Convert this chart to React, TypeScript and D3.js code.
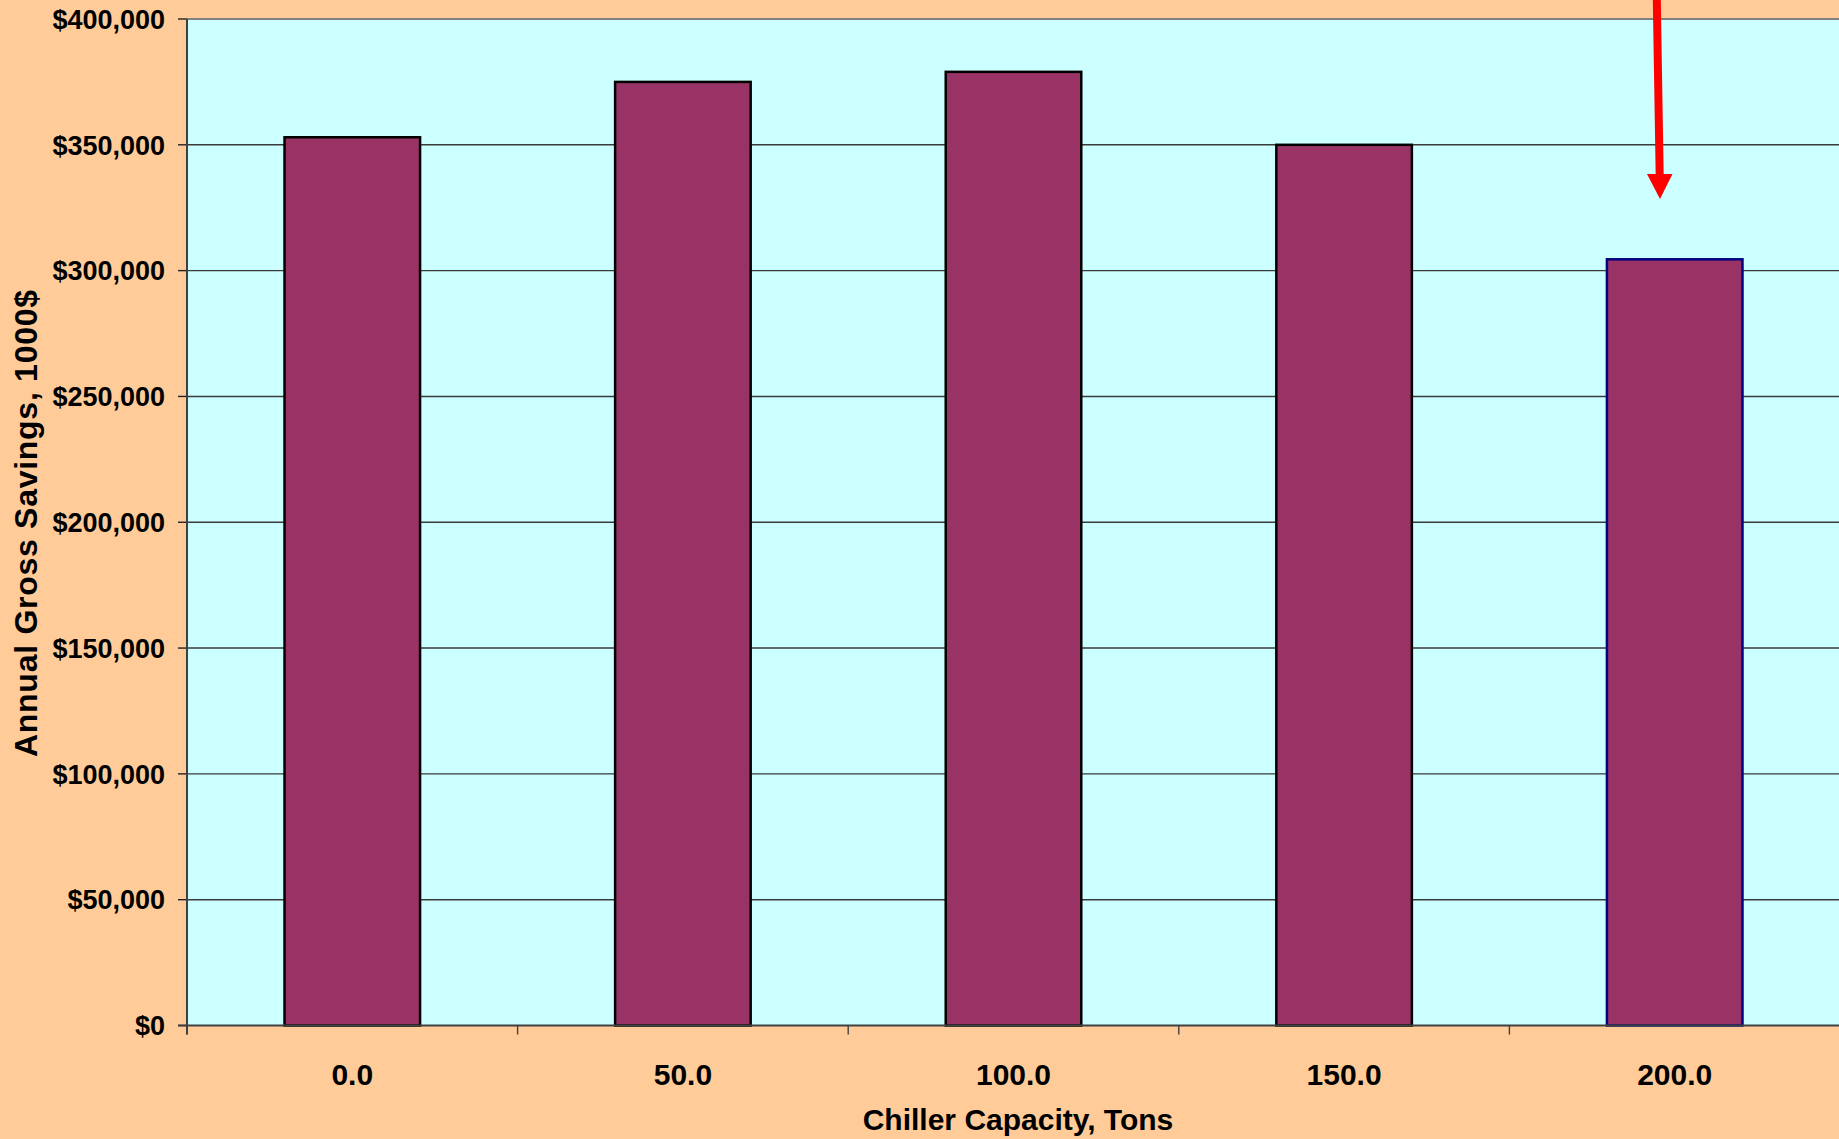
import React from "react";
import * as d3 from "d3";

const categories = ["0.0", "50.0", "100.0", "150.0", "200.0"];
const savings = [353000, 375000, 379000, 350000, 304500];
const yTicks = [0, 50000, 100000, 150000, 200000, 250000, 300000, 350000, 400000];
const xTitle = "Chiller Capacity, Tons";
const yTitle = "Annual Gross Savings, 1000$";

const W = 1839;
const H = 1139;
const plot = { left: 187, right: 1840, top: 19, bottom: 1025.5 };
const FONT = "Arial, 'Liberation Sans', sans-serif";

export default function App() {
  const x = d3
    .scaleBand<string>()
    .domain(categories)
    .range([plot.left, plot.right])
    .paddingInner(0.59)
    .paddingOuter(0.295);
  const xCell = d3.scaleBand<string>().domain(categories).range([plot.left, plot.right]).padding(0);
  const y = d3.scaleLinear().domain([0, 400000]).range([plot.bottom, plot.top]);
  const fmt = (v: number) => "$" + d3.format(",")(v);
  const boundaries = categories.map((c) => xCell(c) as number).concat([plot.right]);

  const arrowTop = { x: 1656.7, y: -6 };
  const arrowBase = { x: 1659.7, y: 176 };
  const tip = { x: 1660, y: 199 };

  return (
    <div style={{ position: "fixed", left: 0, top: 0, width: W, height: H }}>
      <svg width={W} height={H} style={{ display: "block" }}>
        <rect x={0} y={0} width={W} height={H} fill="#FFCC99" />
        <rect
          x={plot.left}
          y={plot.top}
          width={plot.right - plot.left}
          height={plot.bottom - plot.top}
          fill="#CCFFFF"
        />
        {yTicks.map((t) => (
          <g key={t}>
            {t > 0 && t < 400000 && (
              <line x1={plot.left} x2={plot.right} y1={y(t)} y2={y(t)} stroke="#3a3a3a" strokeWidth={1.4} />
            )}
            <line x1={plot.left - 9} x2={plot.left} y1={y(t)} y2={y(t)} stroke="#222" strokeWidth={1.4} />
            <text
              x={165}
              y={y(t)}
              dy="0.36em"
              textAnchor="end"
              fontFamily={FONT}
              fontWeight="bold"
              fontSize={27}
              fill="#000"
            >
              {fmt(t)}
            </text>
          </g>
        ))}
        <line x1={plot.left} x2={plot.right} y1={plot.top} y2={plot.top} stroke="#808080" strokeWidth={2} />
        {categories.map((c, i) => {
          const last = i === categories.length - 1;
          return (
            <rect
              key={c}
              x={x(c)}
              y={y(savings[i])}
              width={x.bandwidth()}
              height={y(0) - y(savings[i])}
              fill="#993366"
              stroke={last ? "#000080" : "#000"}
              strokeWidth={2.5}
            />
          );
        })}
        <line x1={plot.left} x2={plot.left} y1={plot.top} y2={plot.bottom + 9} stroke="#404040" strokeWidth={2} />
        <line x1={plot.left - 9} x2={plot.right} y1={plot.bottom} y2={plot.bottom} stroke="#404040" strokeWidth={2} />
        {boundaries.map((b, i) => (
          <line key={i} x1={b} x2={b} y1={plot.bottom} y2={plot.bottom + 9} stroke="#404040" strokeWidth={1.4} />
        ))}
        {categories.map((c) => (
          <text
            key={c}
            x={(xCell(c) as number) + xCell.bandwidth() / 2}
            y={1085}
            textAnchor="middle"
            fontFamily={FONT}
            fontWeight="bold"
            fontSize={30}
            fill="#000"
          >
            {c}
          </text>
        ))}
        <text
          x={1018}
          y={1130}
          textAnchor="middle"
          fontFamily={FONT}
          fontWeight="bold"
          fontSize={30}
          fill="#000"
        >
          {xTitle}
        </text>
        <text
          transform={`translate(37, ${(290 + 757) / 2}) rotate(-90)`}
          textAnchor="middle"
          fontFamily={FONT}
          fontWeight="bold"
          fontSize={32}
          textLength={467}
          lengthAdjust="spacing"
          fill="#000"
        >
          {yTitle}
        </text>
        <line
          x1={arrowTop.x}
          y1={arrowTop.y}
          x2={arrowBase.x}
          y2={arrowBase.y}
          stroke="#FF0000"
          strokeWidth={8}
        />
        <polygon
          points={`${1647},${174} ${1672.5},${174} ${tip.x},${tip.y}`}
          fill="#FF0000"
        />
      </svg>
    </div>
  );
}
